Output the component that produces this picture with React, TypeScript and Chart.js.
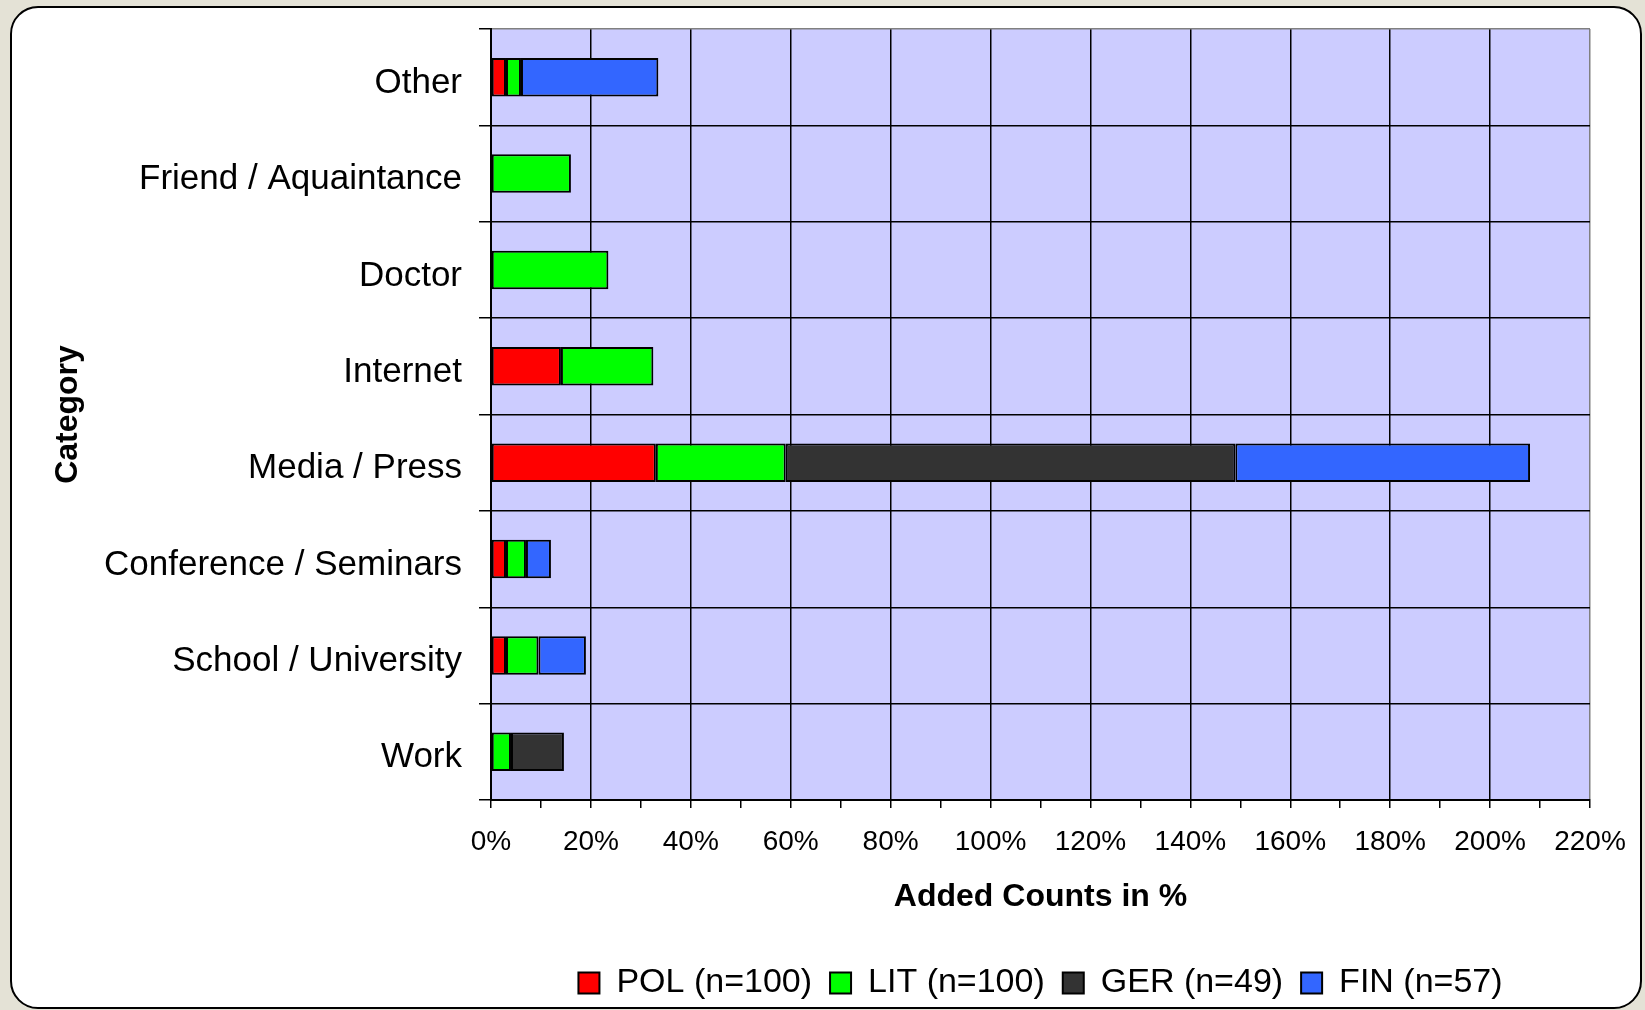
import React, { useEffect, useRef } from "react";
import { Chart, registerables } from "chart.js";

Chart.register(...registerables);

const categories = [
  "Other",
  "Friend / Aquaintance",
  "Doctor",
  "Internet",
  "Media / Press",
  "Conference / Seminars",
  "School / University",
  "Work",
];
const polValues = [3, null, null, 14, 33, 3, 3, null];
const litValues = [3, 16, 23.5, 18.5, 26, 4, 6.5, 4];
const gerValues = [null, null, null, null, 90, null, null, 10.6];
const finValues = [27.5, null, null, null, 59, 5, 9.5, null];
const seriesLabels = ["POL (n=100)", "LIT (n=100)", "GER (n=49)", "FIN (n=57)"];
const seriesColors = ["#ff0000", "#00ff00", "#333333", "#3366ff"];
const xMax = 220;
const xStep = 10;
const xLabelStep = 20;

const FONT = "'Liberation Sans', Arial, sans-serif";

const plotBg = {
  id: "plotBg",
  beforeDraw(chart: any) {
    const { ctx, chartArea } = chart;
    if (!chartArea) return;
    ctx.save();
    ctx.fillStyle = "#ccccff";
    ctx.fillRect(chartArea.left, chartArea.top, chartArea.width, chartArea.height);
    ctx.restore();
  },
};

export default function App() {
  const canvasRef = useRef<HTMLCanvasElement | null>(null);

  useEffect(() => {
    if (!canvasRef.current) return;
    const seriesValues = [polValues, litValues, gerValues, finValues];
    const chart = new Chart(canvasRef.current, {
      type: "bar",
      data: {
        labels: categories,
        datasets: seriesValues.map((vals, i) => ({
          label: seriesLabels[i],
          data: vals,
          backgroundColor: seriesColors[i],
          borderColor: "#000000",
          borderWidth: 2,
          borderSkipped: false,
          barPercentage: 0.4,
          categoryPercentage: 1,
        })),
      },
      options: {
        indexAxis: "y",
        responsive: false,
        animation: false,
        layout: { padding: { left: 30, right: 55, top: 29, bottom: 0 } },
        plugins: {
          legend: {
            position: "bottom",
            fullSize: false,
            labels: {
              font: { family: FONT, size: 34 },
              color: "#000",
              boxWidth: 21,
              boxHeight: 21,
              padding: 18,
            },
          },
          tooltip: { enabled: false },
        },
        scales: {
          x: {
            stacked: true,
            min: 0,
            max: xMax,
            afterFit: (s: any) => {
              s.height = 148;
            },
            ticks: {
              stepSize: xStep,
              autoSkip: false,
              maxRotation: 0,
              callback: (v: any) => (Number(v) % xLabelStep === 0 ? v + "%" : ""),
              font: { family: FONT, size: 28 },
              color: "#000",
              padding: 17,
            },
            grid: {
              color: (ctx: any) => {
                const v = ctx.tick ? ctx.tick.value : 0;
                if (v % xLabelStep !== 0) return "rgba(0,0,0,0)";
                if (v === xMax) return "#808080";
                return "#000";
              },
              lineWidth: 1.5,
              tickLength: 8,
              tickColor: "#000",
              tickWidth: 1.5,
            },
            border: { color: "#000", width: 2 },
            title: {
              display: true,
              text: "Added Counts in %",
              font: { family: FONT, size: 32, weight: "bold" },
              color: "#000",
              padding: { top: 0, bottom: 32 },
            },
          },
          y: {
            stacked: true,
            afterFit: (s: any) => {
              s.width = 461;
              s.paddingTop = 0;
              s.paddingBottom = 0;
            },
            ticks: {
              font: { family: FONT, size: 35 },
              color: "#000",
              padding: 17,
              labelOffset: 6,
            },
            grid: {
              offset: true,
              color: (ctx: any) => (ctx.index === 0 ? "#808080" : "#000"),
              lineWidth: 1.5,
              tickLength: 12,
              tickColor: "#000",
              tickWidth: 1.5,
            },
            border: { color: "#000", width: 2 },
            title: {
              display: true,
              text: "Category",
              font: { family: FONT, size: 32, weight: "bold" },
              color: "#000",
              padding: { top: 19, bottom: 0 },
            },
          },
        },
      } as any,
      plugins: [plotBg],
    });
    return () => chart.destroy();
  }, []);

  return (
    <div
      style={{
        position: "fixed",
        left: 0,
        top: 0,
        width: 1645,
        height: 1010,
        background: "#e4e2d6",
        overflow: "hidden",
      }}
    >
      <div
        style={{
          position: "absolute",
          left: 10,
          top: 6,
          width: 1632,
          height: 1003,
          boxSizing: "border-box",
          border: "2.5px solid #000",
          borderRadius: 28,
          background: "#ffffff",
        }}
      />
      <canvas
        ref={canvasRef}
        width={1645}
        height={1010}
        style={{ position: "absolute", left: 0, top: 0 }}
      />
    </div>
  );
}
